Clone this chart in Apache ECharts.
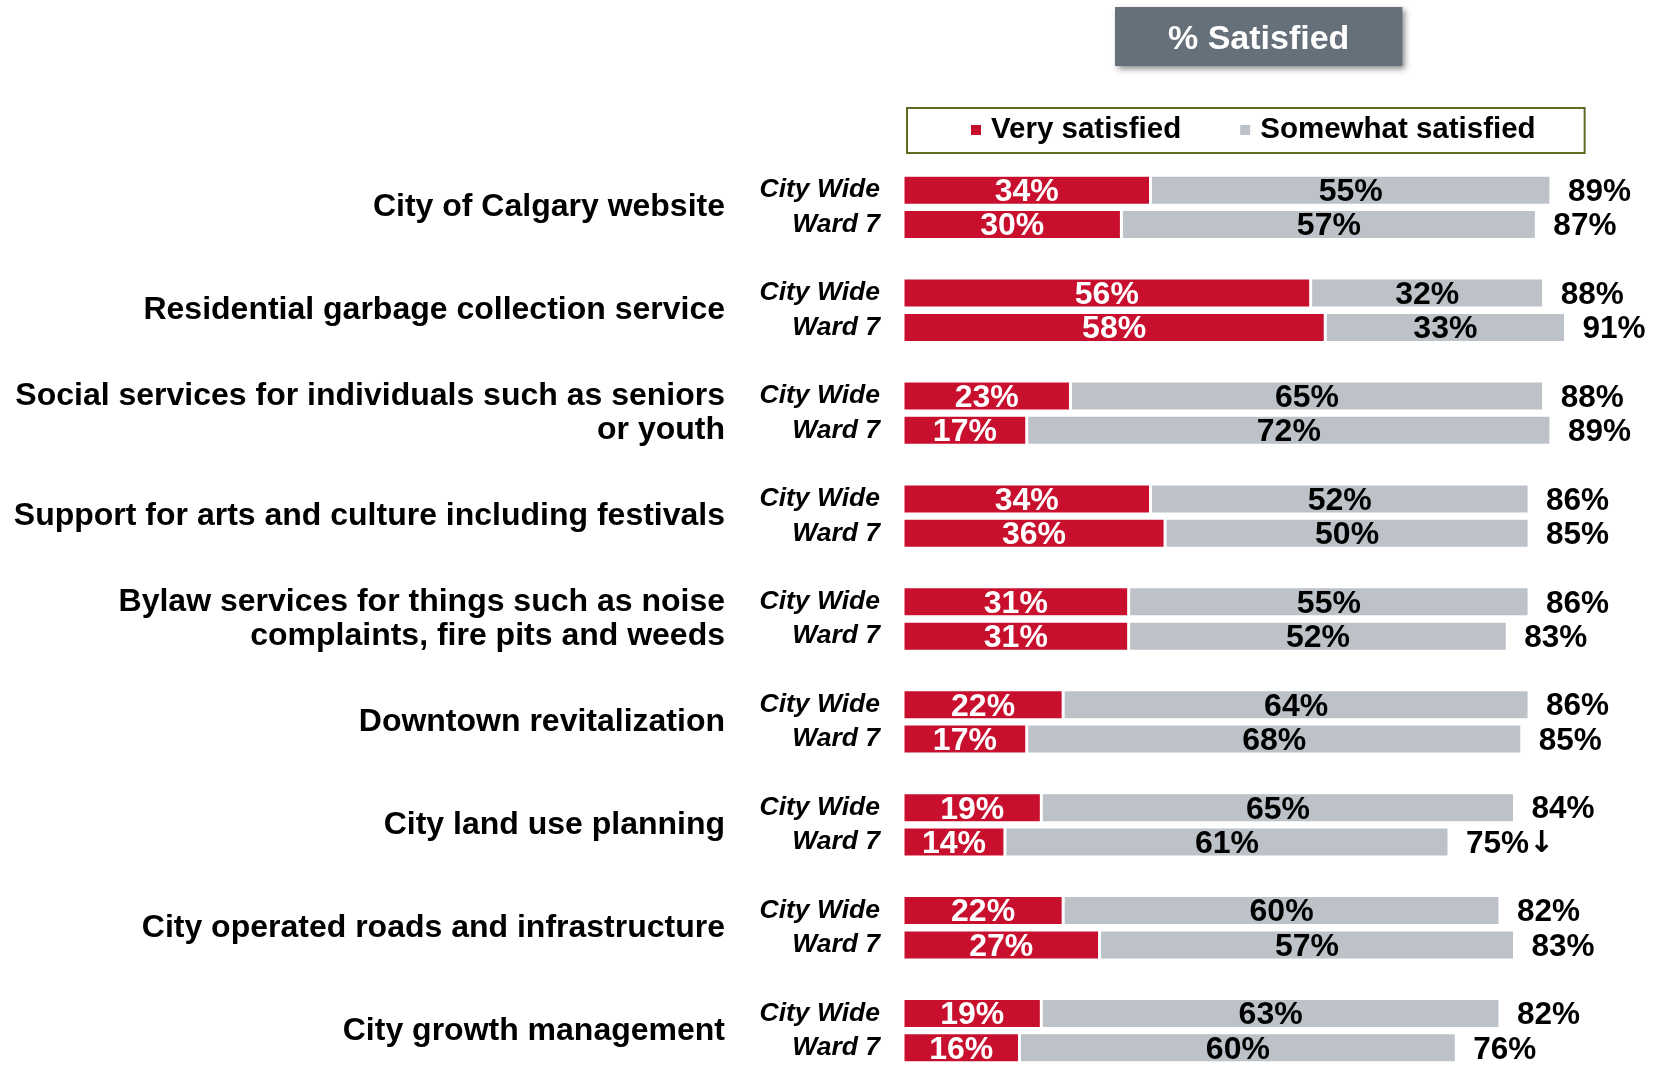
<!DOCTYPE html>
<html lang="en">
<head>
  <meta charset="UTF-8" />
  <title>% Satisfied</title>
  <style>
    * { margin: 0; padding: 0; }
    html, body { width: 100%; height: 100%; background: #fff; }
    #chart { width: 1656px; height: 1065px; }
  </style>
</head>
<body>
  <div id="chart"></div>
  <script src="https://cdn.jsdelivr.net/npm/echarts@6/dist/echarts.min.js"></script>
  <script>
    // data
    var services = [
      'City of Calgary website',
      'Residential garbage collection service',
      'Social services for individuals such as seniors\nor youth',
      'Support for arts and culture including festivals',
      'Bylaw services for things such as noise\ncomplaints, fire pits and weeds',
      'Downtown revitalization',
      'City land use planning',
      'City operated roads and infrastructure',
      'City growth management'
    ];
    var rowNames = ['City Wide', 'Ward 7'];
    var cityVery  = [34, 56, 23, 34, 31, 22, 19, 22, 19];
    var citySome  = [55, 32, 65, 52, 55, 64, 65, 60, 63];
    var cityTotal = [89, 88, 88, 86, 86, 86, 84, 82, 82];
    var wardVery  = [30, 58, 17, 36, 31, 17, 14, 27, 16];
    var wardSome  = [57, 33, 72, 50, 52, 68, 61, 57, 60];
    var wardTotal = [87, 91, 89, 85, 83, 85, 75, 83, 76];
    var wardMark  = ['', '', '', '', '', '', '↓', '', ''];

    // slots: City Wide, Ward 7, empty gap (no gap after the last group)
    var cats = [], very = [], some = [], totals = [], marks = [];
    services.forEach(function (s, i) {
      cats.push(rowNames[0]); very.push(cityVery[i]); some.push(citySome[i]); totals.push(cityTotal[i]); marks.push('');
      cats.push(rowNames[1]); very.push(wardVery[i]); some.push(wardSome[i]); totals.push(wardTotal[i]); marks.push(wardMark[i]);
      if (i < services.length - 1) {
        cats.push(''); very.push('-'); some.push('-'); totals.push(null); marks.push('');
      }
    });

    var font = 'Liberation Sans';
    var chart = echarts.init(document.getElementById('chart'));

    chart.setOption({
      animation: false,
      title: {
        text: '% Satisfied',
        left: 1115,
        top: 7,
        padding: [14, 53, 8, 53],
        backgroundColor: '#66707a',
        shadowBlur: 6,
        shadowColor: 'rgba(0,0,0,0.45)',
        shadowOffsetX: 3,
        shadowOffsetY: 3,
        textStyle: { color: '#fff', fontFamily: font, fontWeight: 'bold', fontSize: 34, lineHeight: 37 }
      },
      legend: {
        left: 907,
        top: 108,
        padding: [7, 49, 8, 62],
        borderColor: '#5e6b24',
        borderWidth: 2,
        itemWidth: 12,
        itemHeight: 12,
        itemGap: 57,
        icon: 'rect',
        data: ['Very satisfied', 'Somewhat satisfied'],
        textStyle: { color: '#000', fontFamily: font, fontWeight: 'bold', fontSize: 29.5, lineHeight: 30, padding: [0, 0, 0, 4] }
      },
      grid: { left: 903, top: 173, width: 728, height: 900, containLabel: false },
      xAxis: { type: 'value', min: 0, max: 100, show: false },
      yAxis: [
        {
          type: 'category',
          data: cats,
          inverse: true,
          axisLine: { show: false },
          axisTick: { show: false },
          axisLabel: {
            interval: 0,
            margin: 23,
            color: '#000',
            fontFamily: font,
            fontWeight: 'bold',
            fontStyle: 'italic',
            fontSize: 26.5
          }
        },
        {
          // only carries the service names, centred on each pair of rows
          type: 'value',
          min: 0,
          max: cats.length,
          interval: 1,
          inverse: true,
          position: 'left',
          axisLine: { show: false },
          axisTick: { show: false },
          splitLine: { show: false },
          axisLabel: {
            margin: 178,
            color: '#000',
            fontFamily: font,
            fontWeight: 'bold',
            fontSize: 32,
            lineHeight: 34,
            align: 'right',
            formatter: function (v) {
              return v % 3 === 1 ? services[(v - 1) / 3] : '';
            }
          }
        }
      ],
      series: [
        {
          name: 'Very satisfied',
          type: 'bar',
          stack: 'sat',
          barWidth: 30,
          data: very,
          itemStyle: { color: '#c8102e', borderColor: '#fff', borderWidth: 1.5 },
          label: {
            show: true, position: 'inside', color: '#fff', offset: [0, 2],
            fontFamily: font, fontWeight: 'bold', fontSize: 32,
            formatter: '{c}%'
          }
        },
        {
          name: 'Somewhat satisfied',
          type: 'bar',
          stack: 'sat',
          barWidth: 30,
          data: some,
          itemStyle: { color: '#bcc2c8', borderColor: '#fff', borderWidth: 1.5 },
          label: {
            show: true, position: 'inside', color: '#000', offset: [0, 2],
            fontFamily: font, fontWeight: 'bold', fontSize: 32,
            formatter: '{c}%'
          }
        },
        {
          name: 'Total',
          type: 'bar',
          stack: 'sat',
          barWidth: 30,
          data: totals.map(function (t) { return t == null ? '-' : 0; }),
          itemStyle: { color: 'transparent' },
          label: {
            show: true, position: 'right', distance: 17, color: '#000', offset: [0, 2],
            fontFamily: font, fontWeight: 'bold', fontSize: 31.5,
            formatter: function (p) {
              var t = totals[p.dataIndex];
              if (t == null) return '';
              return t + '%' + (marks[p.dataIndex] ? '{arr|' + marks[p.dataIndex] + '}' : '');
            },
            rich: {
              arr: { fontFamily: 'DejaVu Sans', fontWeight: 'bold', fontSize: 30, color: '#000' }
            }
          }
        }
      ]
    });
  </script>
</body>
</html>
